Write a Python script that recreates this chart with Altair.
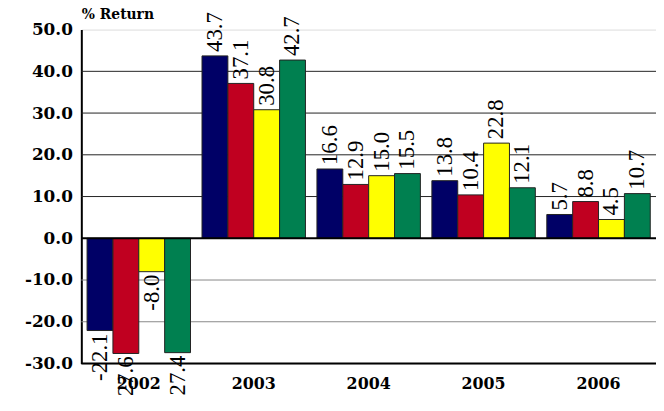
import altair as alt
import pandas as pd

years = ["2002", "2003", "2004", "2005", "2006"]
series = ["S1", "S2", "S3", "S4"]
colors = ["#000066", "#C00020", "#FFFF00", "#008050"]
values = {
    "S1": [-22.1, 43.7, 16.6, 13.8, 5.7],
    "S2": [-27.6, 37.1, 12.9, 10.4, 8.8],
    "S3": [-8.0, 30.8, 15.0, 22.8, 4.5],
    "S4": [-27.4, 42.7, 15.5, 12.1, 10.7],
}
grid_pos = [10, 20, 30, 40]
grid_neg = [-10, -20]

rows = []
for s in series:
    for y, v in zip(years, values[s]):
        rows.append({"year": y, "series": s, "value": v})
df = pd.DataFrame(rows)

AXFONT = "DejaVu Serif"
LBLFONT = "Liberation Serif"
MINUS_FIX = "replace(datum.label, '\u2212', '-')"

x = alt.X("year:N", sort=years,
          scale=alt.Scale(paddingInner=0.1, paddingOuter=0.05),
          axis=alt.Axis(title=None, labelAngle=0, ticks=False, domain=False,
                        labelFont=AXFONT, labelFontWeight="bold", labelFontSize=16,
                        labelColor="black", labelPadding=12))
xo = alt.XOffset("series:N", sort=series, scale=alt.Scale(paddingInner=0, paddingOuter=0))
y = alt.Y("value:Q", scale=alt.Scale(domain=[-30, 50], nice=False),
          axis=alt.Axis(values=[-30, -20, -10, 0, 10, 20, 30, 40, 50], format=".1f",
                        labelExpr=MINUS_FIX,
                        title="% Return", titleAngle=0, titleAlign="left", titleX=0,
                        titleY=-11, titleBaseline="alphabetic", titleFont=AXFONT,
                        titleFontSize=14, titleFontWeight="bold", titleColor="black",
                        labelFont=AXFONT, labelFontWeight="bold", labelFontSize=17,
                        labelColor="black", labelPadding=9, ticks=False,
                        domainColor="black", domainWidth=2, grid=False))

color = alt.Color("series:N", sort=series,
                  scale=alt.Scale(domain=series, range=colors), legend=None)

gp = alt.Chart(pd.DataFrame({"g": grid_pos})).mark_rule(color="#222222", strokeWidth=1).encode(
    y=alt.Y("g:Q"))
gn = alt.Chart(pd.DataFrame({"g": grid_neg})).mark_rule(color="#888888", strokeWidth=1).encode(
    y=alt.Y("g:Q"))

bars = alt.Chart(df).mark_bar(stroke="#222222", strokeWidth=1).encode(
    x=x, xOffset=xo, y=y, color=color)

zero = alt.Chart(pd.DataFrame({"z": [0]})).mark_rule(color="black", strokeWidth=2).encode(
    y=alt.Y("z:Q"))

bottom = alt.Chart(pd.DataFrame({"z": [-30]})).mark_rule(color="black", strokeWidth=2).encode(
    y=alt.Y("z:Q"))

base_text = alt.Chart(df).transform_calculate(
    lbl="replace(format(datum.value, '.1f'), '\u2212', '-')")

pos = base_text.transform_filter("datum.value >= 0").mark_text(
    angle=270, align="left", baseline="middle", dx=4, font=LBLFONT, fontSize=23,
    color="black").encode(x=x, xOffset=xo, y=y, text="lbl:N")

neg = base_text.transform_filter("datum.value < 0").mark_text(
    angle=270, align="right", baseline="middle", dx=-3, font=LBLFONT, fontSize=23,
    color="black").encode(x=x, xOffset=xo, y=y, text="lbl:N")

chart = alt.layer(gp, gn, bars, zero, bottom, pos, neg).properties(
    width=580, height=337,
    autosize=alt.AutoSizeParams(type="none"),
    padding={"left": 74, "top": 20, "right": 0, "bottom": 30},
).configure_view(stroke="black", strokeWidth=1.5).configure(background="white")

chart.save("out.html", embed_options={"renderer": "svg", "actions": False})
